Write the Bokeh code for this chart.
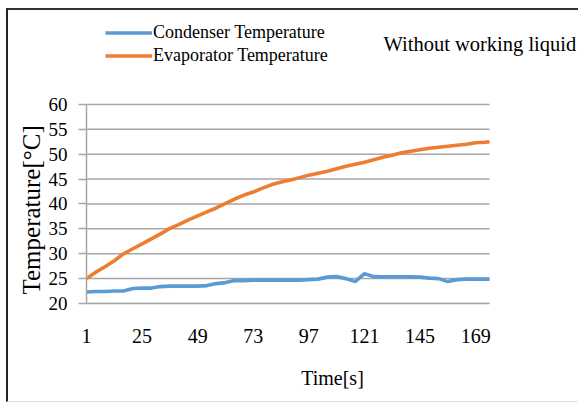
from bokeh.plotting import figure
from bokeh.models import Range1d, FixedTicker, Legend, LegendItem, Label, Title
from bokeh.embed import file_html
from bokeh.resources import INLINE

# ---- data ----
time_s = [1, 5, 9, 13, 17, 21, 25, 29, 33, 37, 41, 45, 49, 53, 57, 61, 65, 69, 73, 77,
          81, 85, 89, 93, 97, 101, 105, 109, 113, 117, 121, 125, 129, 133, 137, 141,
          145, 149, 153, 157, 161, 165, 169, 173, 175]
condenser = [22.3, 22.4, 22.4, 22.5, 22.5, 23.0, 23.1, 23.1, 23.4, 23.5, 23.5, 23.5, 23.5,
             23.6, 24.0, 24.2, 24.6, 24.6, 24.7, 24.7, 24.7, 24.7, 24.7, 24.7, 24.8, 24.9,
             25.3, 25.4, 25.0, 24.4, 26.0, 25.4, 25.35, 25.35, 25.35, 25.35, 25.3, 25.1,
             25.0, 24.4, 24.8, 24.9, 24.9, 24.9, 24.9]
evaporator = [25.0, 26.3, 27.4, 28.6, 30.0, 31.0, 32.0, 33.0, 34.0, 35.1, 35.9, 36.8, 37.6,
              38.4, 39.2, 40.1, 41.0, 41.8, 42.4, 43.2, 43.9, 44.4, 44.8, 45.3, 45.8, 46.2,
              46.6, 47.1, 47.6, 48.0, 48.4, 48.9, 49.4, 49.8, 50.3, 50.6, 50.9, 51.2, 51.4,
              51.6, 51.8, 52.0, 52.3, 52.4, 52.5]
x_ticks = [1, 25, 49, 73, 97, 121, 145, 169]
x_tick_labels = ["1", "25", "49", "73", "97", "121", "145", "169"]
y_ticks = [20, 25, 30, 35, 40, 45, 50, 55, 60]
series_names = ["Condenser Temperature", "Evaporator Temperature"]
series_colors = ["#5B9BD5", "#ED7D31"]
note_text = "Without working liquid"
x_title = "Time[s]"
y_title = "Temperature[°C]"

FONT = "Liberation Serif"
GRID = "#a6a6a6"

x_first, x_last = time_s[0], time_s[-1]
y_low, y_high = y_ticks[0], y_ticks[-1]

# the frame also holds the legend/note area; axes are bounded to the data area
p = figure(width=572, height=394, output_backend="svg", toolbar_location=None,
           x_range=Range1d(x_first, 213.4), y_range=Range1d(y_low, 76.88),
           min_border_left=78, min_border_right=2, min_border_top=10,
           min_border_bottom=101)
p.styles = {"margin-left": "6px", "margin-top": "8px",
            "border-left": "2px solid #222222", "border-top": "2px solid #333333",
            "border-bottom": "1px solid #dddddd"}
p.outline_line_color = None
p.background_fill_color = "white"
p.border_fill_color = "white"

# horizontal gridlines across the data area only
p.xgrid.grid_line_color = None
p.ygrid.grid_line_color = None
p.segment(x0=[x_first] * len(y_ticks), x1=[x_last] * len(y_ticks),
          y0=y_ticks, y1=y_ticks, line_color=GRID, line_width=1.5)

r1 = p.line(time_s, condenser, line_color=series_colors[0], line_width=3.6)
r2 = p.line(time_s, evaporator, line_color=series_colors[1], line_width=3.6)

# x axis
p.xaxis.bounds = (x_first, x_last)
p.xaxis.ticker = FixedTicker(ticks=x_ticks)
p.xaxis.major_label_overrides = {t: s for t, s in zip(x_ticks, x_tick_labels)}
p.xaxis.axis_line_color = GRID
p.xaxis.axis_line_width = 1.5
p.xaxis.major_tick_out = 0
p.xaxis.major_tick_in = 0
p.xaxis.minor_tick_line_color = None
p.xaxis.major_label_standoff = 25
p.xaxis.major_label_text_font = FONT
p.xaxis.major_label_text_font_size = "20px"
p.xaxis.major_label_text_color = "black"
p.xaxis.axis_label = x_title
p.xaxis.axis_label_text_font = FONT
p.xaxis.axis_label_text_font_size = "20px"
p.xaxis.axis_label_text_font_style = "normal"
p.xaxis.axis_label_text_color = "black"
p.xaxis.axis_label_standoff = 21

# y axis
p.yaxis.bounds = (y_low, y_high)
p.yaxis.ticker = FixedTicker(ticks=y_ticks)
p.yaxis.axis_line_color = GRID
p.yaxis.axis_line_width = 1.5
p.yaxis.major_tick_line_color = GRID
p.yaxis.major_tick_line_width = 1.5
p.yaxis.major_tick_out = 8
p.yaxis.major_tick_in = 0
p.yaxis.minor_tick_line_color = None
p.yaxis.major_label_standoff = 11
p.yaxis.major_label_text_font = FONT
p.yaxis.major_label_text_font_size = "19px"
p.yaxis.major_label_text_color = "black"

# vertical axis title, placed alongside the data part of the axis
ytitle = Title(text=y_title, align="left", offset=9, text_font=FONT,
               text_font_size="25px", text_font_style="normal", text_color="black",
               standoff=2)
p.add_layout(ytitle, "left")

legend = Legend(items=[LegendItem(label=series_names[0], renderers=[r1]),
                       LegendItem(label=series_names[1], renderers=[r2])],
                location=(19, 236), orientation="vertical",
                glyph_width=47, glyph_height=23, label_height=23, label_standoff=1,
                spacing=0, padding=0, margin=0, border_line_color=None,
                background_fill_alpha=0,
                label_text_font=FONT, label_text_font_size="18px",
                label_text_color="black")
p.add_layout(legend)

note = Label(x=129.2, y=72.2, text=note_text, text_font=FONT,
             text_font_size="20.5px", text_color="black", text_baseline="alphabetic")
p.add_layout(note)

open("out.html", "w").write(file_html(p, INLINE))
